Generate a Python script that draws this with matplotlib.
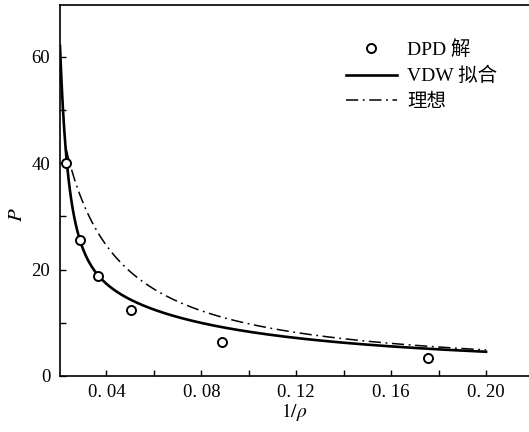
import numpy as np
import matplotlib
matplotlib.use('Agg')
import matplotlib.pyplot as plt
from matplotlib.ticker import MultipleLocator, FixedLocator, FixedFormatter

# DPD 解 (数据点)
v_dpd = [0.0228, 0.0290, 0.0363, 0.0505, 0.0887, 0.1757]
p_dpd = [40.1, 25.6, 18.8, 12.4, 6.4, 3.3]

# VDW 拟合参数: P = A/(v-b) - a/v^2
vdw_A = 1.0
vdw_b = 0.0132
vdw_a = 0.032
# 理想气体: P = c/v
ideal_c = 0.98

v_start, v_end = 0.0204, 0.20

x_ticks = [0.04, 0.08, 0.12, 0.16, 0.20]
x_ticklabels = ['0. 04', '0. 08', '0. 12', '0. 16', '0. 20']
y_ticks = [0, 20, 40, 60]

plt.rcParams['font.family'] = ['Liberation Serif', 'Noto Sans CJK SC']
plt.rcParams['mathtext.fontset'] = 'stix'

fig = plt.figure(figsize=(5.29, 4.32), dpi=100)
ax = fig.add_axes([60 / 529, 1 - 376 / 432, 1 - 60 / 529, (376 - 5) / 432])

v = np.linspace(v_start, v_end, 600)
p_vdw = vdw_A / (v - vdw_b) - vdw_a / v ** 2
v2 = np.linspace(v_dpd[0], v_end, 600)
p_ideal = ideal_c / v2

ax.plot(v_dpd, p_dpd, 'o', ms=6.5, mfc='white', mec='black', mew=1.4,
        label='DPD 解', zorder=3)
ax.plot(v, p_vdw, '-', color='black', lw=1.9, label='VDW 拟合')
ax.plot(v2, p_ideal, color='black', lw=1.1, dashes=[8, 3, 1.2, 3],
        label='理想')

ax.set_xlim(0.0204, 0.2181)
ax.set_ylim(0, 69.7)

ax.xaxis.set_major_locator(FixedLocator(x_ticks))
ax.xaxis.set_major_formatter(FixedFormatter(x_ticklabels))
ax.xaxis.set_minor_locator(MultipleLocator(0.02))
ax.yaxis.set_major_locator(FixedLocator(y_ticks))
ax.yaxis.set_minor_locator(MultipleLocator(10))
ax.tick_params(which='both', direction='in', length=4, width=1,
               labelsize=13.5, pad=7)
ax.tick_params(axis='x', pad=6)

ax.spines['right'].set_visible(False)
for s in ['left', 'bottom', 'top']:
    ax.spines[s].set_linewidth(1.2)

ax.set_xlabel(r'$1/\rho$', fontsize=14, labelpad=0)
ax.set_ylabel(r'$P$', fontsize=15, labelpad=6)
ax.yaxis.set_label_coords(-0.07, 0.434)

ax.legend(loc='upper left', bbox_to_anchor=(346 / 529, 1 - 40 / 432),
          bbox_transform=fig.transFigure, frameon=False, fontsize=14,
          handlelength=2.6, handletextpad=0.55, labelspacing=0.42,
          borderpad=0, borderaxespad=0)

fig.savefig('out.png', dpi=100)
